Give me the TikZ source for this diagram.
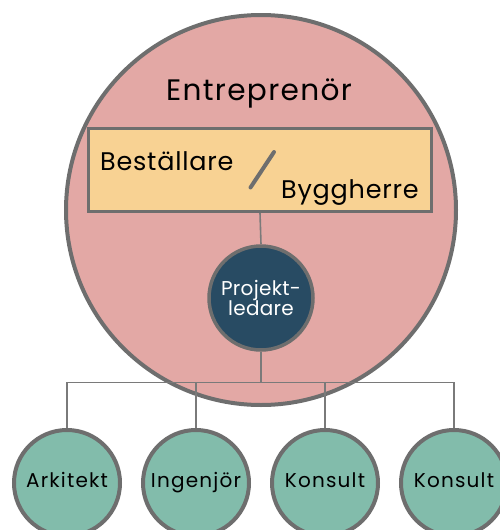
\documentclass[tikz,border=0pt]{standalone}
\usepackage{fontspec}
\setmainfont{Poppins}
\newfontfamily\bigfont[LetterSpace=4.5]{Poppins}
\newfontfamily\midfont[LetterSpace=3]{Poppins}
\newfontfamily\projfont[LetterSpace=1.5]{Poppins}
\newfontfamily\teamfont[LetterSpace=6]{Poppins}
\definecolor{entre}{HTML}{E3A8A5}
\definecolor{best}{HTML}{F8D293}
\definecolor{proj}{HTML}{284B63}
\definecolor{team}{HTML}{82BCAB}
\definecolor{edge}{HTML}{6E6E6E}
\definecolor{conn}{HTML}{7A7A7A}
\tikzset{
  bigcirc/.style={circle, draw=edge, line width=4pt, fill=entre, minimum size=390pt, inner sep=0pt},
  bestbox/.style={rectangle, draw=edge, line width=3pt, fill=best, minimum width=343pt, minimum height=83pt, inner sep=0pt},
  projcirc/.style={circle, draw=edge, line width=3.5pt, fill=proj, minimum size=104pt, inner sep=0pt, text=white, align=center, font=\projfont\fontsize{20}{20}\selectfont},
  teamcirc/.style={circle, draw=edge, line width=4pt, fill=team, minimum size=106pt, inner sep=0pt, text height=11pt, text depth=2.4pt, font=\teamfont\fontsize{20}{23}\selectfont},
  connector/.style={draw=conn, line width=1.6pt},
  bigtext/.style={inner sep=0pt, font=\bigfont\fontsize{29.6}{34}\selectfont},
  midtext/.style={inner sep=0pt, font=\midfont\fontsize{25.5}{28}\selectfont},
}
\begin{document}
\begin{tikzpicture}[x=1pt,y=-1pt]
\useasboundingbox (0,0) rectangle (500,530);
\clip (0,0) rectangle (500,530);
\node[bigcirc] (ent) at (261,210) {};
\node[bigtext, anchor=base] (enttext) at (259,100.7) {Entreprenör};
\node[bestbox] (bb) at (260,170) {};
\node[midtext, anchor=base west] (bestext) at (100,170) {Beställare};
\node[midtext, anchor=base west] (bygtext) at (281,198) {Byggherre};
\coordinate (s1) at (250.5,187.5);
\coordinate (s2) at (274,152);
\draw[draw=edge, line width=4pt, line cap=round] (s1) -- (s2);
\node[projcirc] (pl) at (261,298) {Projekt-\\ledare};
\draw[connector] (bb.south) -- (pl.north);
\coordinate (j) at (261,382.5);
\node[teamcirc] (t1) at (67,483) {Arkitekt};
\node[teamcirc] (t2) at (196,483) {Ingenjör};
\node[teamcirc] (t3) at (325,483) {Konsult};
\node[teamcirc] (t4) at (454,483) {Konsult};
\draw[connector] (pl.south) -- (j);
\draw[connector] (t1.north) |- (j) -| (t4.north);
\draw[connector] (t2.north) -- (t2.north |- j);
\draw[connector] (t3.north) -- (t3.north |- j);
\end{tikzpicture}
\end{document}
